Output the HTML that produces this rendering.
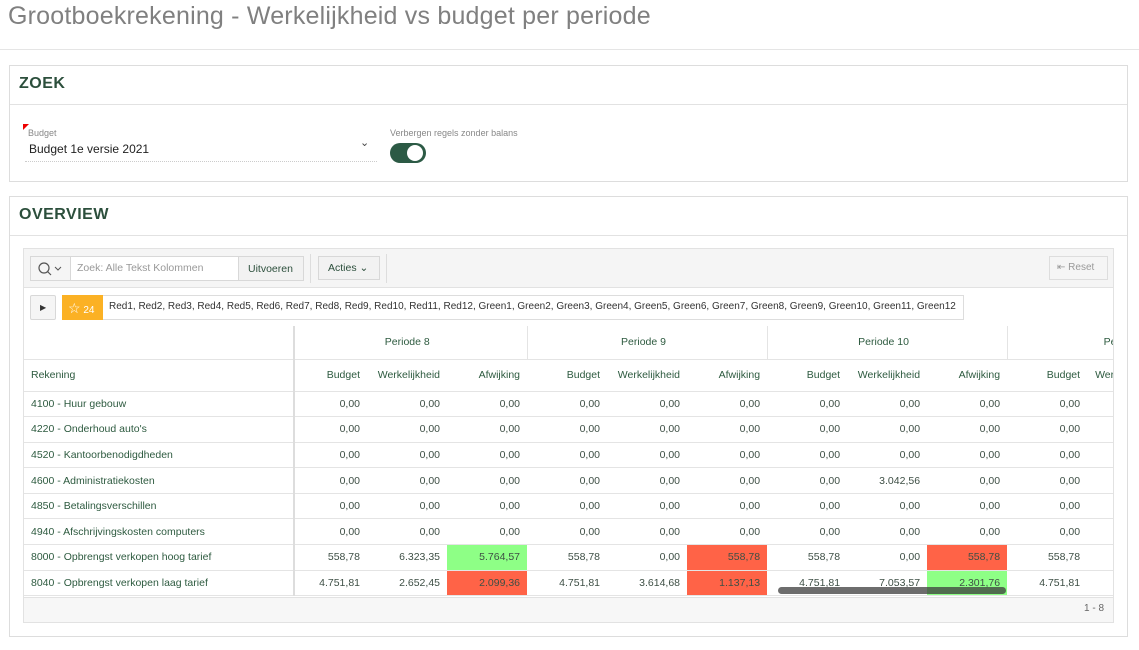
<!DOCTYPE html>
<html><head><meta charset="utf-8"><style>
*{box-sizing:border-box;margin:0;padding:0}
body{width:1139px;height:650px;overflow:hidden;background:#fff;font-family:"Liberation Sans",sans-serif;color:#3e4f45;position:relative}
.abs{position:absolute}
h1{position:absolute;left:8px;top:2px;font-size:25px;font-weight:normal;color:#808080;letter-spacing:0.2px}
.panel{position:absolute;left:9px;width:1119px;border:1px solid #ddd;background:#fff}
.ph{height:39px;border-bottom:1px solid #e2e2e2;padding:9px 9px;font-weight:bold;font-size:16px;color:#2c4f3c;letter-spacing:0.5px}
table{border-collapse:collapse;table-layout:fixed;font-size:10.5px}
td{height:25.6px;border-bottom:1px solid #e4e4e4;text-align:right;padding-right:7px;color:#3e4f45;white-space:nowrap;overflow:hidden}
td.l{text-align:left;padding-left:7px;color:#2d5a3f;border-right:2px solid #ddd}
.hd td{color:#2d5a3f;height:32px}
.r{background:#ff6347}.g{background:#8eff86}
</style></head><body>
<h1>Grootboekrekening - Werkelijkheid vs budget per periode</h1>
<div class="abs" style="left:0;top:49px;width:1139px;border-top:1px solid #e5e5e5"></div>

<div class="panel" style="top:65px;height:117px">
<div class="ph">ZOEK</div>
<div class="abs" style="left:13px;top:58px;width:0;height:0;border-top:6px solid #e00;border-right:6px solid transparent"></div>
<div class="abs" style="left:18px;top:62px;font-size:9px;color:#888">Budget</div>
<div class="abs" style="left:19px;top:76px;font-size:12px;color:#222">Budget 1e versie 2021</div>
<div class="abs" style="left:350px;top:70px;font-size:11px;color:#444">&#8964;</div>
<div class="abs" style="left:15px;top:95px;width:352px;border-top:1px dotted #ccc"></div>
<div class="abs" style="left:380px;top:62px;font-size:9px;color:#888">Verbergen regels zonder balans</div>
<div class="abs" style="left:380px;top:77px;width:36px;height:20px;border-radius:10px;background:#2c5a45"><div class="abs" style="left:17px;top:2px;width:16px;height:16px;border-radius:8px;background:#fff"></div></div>
</div>

<div class="panel" style="top:196px;height:441px">
<div class="ph" style="height:39px">OVERVIEW</div>
</div>

<div class="abs" style="left:23px;top:248px;width:1091px;height:375px;border:1px solid #e2e2e2;overflow:hidden">
<div class="abs" style="left:0;top:0;width:1091px;height:39px;background:#f5f5f5;border-bottom:1px solid #e2e2e2"></div>
<div class="abs" style="left:6px;top:7px;width:274px;height:25px;border:1px solid #d8d8d8;background:#fff"></div>
<div class="abs" style="left:6px;top:7px;width:41px;height:25px;border:1px solid #d8d8d8;background:#f5f5f5">
<svg width="40" height="24" style="position:absolute;left:0;top:0"><circle cx="13" cy="11" r="5" fill="none" stroke="#555" stroke-width="1.2"/><line x1="16.5" y1="14.5" x2="20" y2="18" stroke="#555" stroke-width="1.2"/><polyline points="24,10 27,13 30,10" fill="none" stroke="#555" stroke-width="1"/></svg></div>
<div class="abs" style="left:53px;top:13px;font-size:10.5px;color:#999">Zoek: Alle Tekst Kolommen</div>
<div class="abs" style="left:214px;top:7px;width:66px;height:25px;border:1px solid #d8d8d8;background:#f2f2f2;font-size:10.5px;padding:6px 0 0 9px;color:#2c4f3c">Uitvoeren</div>
<div class="abs" style="left:286px;top:5px;height:29px;border-left:1px solid #ddd"></div>
<div class="abs" style="left:294px;top:7px;width:62px;height:24px;border:1px solid #d8d8d8;background:#f2f2f2;font-size:10.5px;padding:5px 0 0 9px;color:#2c4f3c">Acties &#8964;</div>
<div class="abs" style="left:362px;top:5px;height:29px;border-left:1px solid #ddd"></div>
<div class="abs" style="left:1025px;top:7px;width:59px;height:24px;border:1px solid #ddd;font-size:10px;padding:5px 0 0 7px;color:#999">&#8676; Reset</div>

<div class="abs" style="left:6px;top:46px;width:26px;height:25px;border:1px solid #d8d8d8;border-radius:2px;background:#f5f5f5;font-size:8px;padding:7px 0 0 9px;color:#333">&#9654;</div>
<div class="abs" style="left:38px;top:46px;width:902px;height:25px;border:1px solid #ddd"></div>
<div class="abs" style="left:38px;top:46px;width:41px;height:25px;background:#fbb124;color:#fff;font-size:10px;padding:5px 0 0 6px"><span style="font-size:14px">&#9734;</span> 24</div>
<div class="abs" style="left:85px;top:52px;font-size:10px;color:#333">Red1, Red2, Red3, Red4, Red5, Red6, Red7, Red8, Red9, Red10, Red11, Red12, Green1, Green2, Green3, Green4, Green5, Green6, Green7, Green8, Green9, Green10, Green11, Green12</div>

<table class="abs" style="left:0;top:77px;width:1170px">
<colgroup><col style="width:270px"><col style="width:73px"><col style="width:80px"><col style="width:80px"><col style="width:80px"><col style="width:80px"><col style="width:80px"><col style="width:80px"><col style="width:80px"><col style="width:80px"><col style="width:80px"><col style="width:80px"></colgroup>
<tr class="hd"><td class="l" style="height:33px"></td><td colspan="3" style="text-align:center;border-right:1px solid #e4e4e4">Periode 8</td><td colspan="3" style="text-align:center;border-right:1px solid #e4e4e4">Periode 9</td><td colspan="3" style="text-align:center;border-right:1px solid #e4e4e4">Periode 10</td><td colspan="3" style="text-align:left;padding-left:96px">Periode 11</td></tr>
<tr class="hd"><td class="l">Rekening</td><td>Budget</td><td>Werkelijkheid</td><td>Afwijking</td><td>Budget</td><td>Werkelijkheid</td><td>Afwijking</td><td>Budget</td><td>Werkelijkheid</td><td>Afwijking</td><td>Budget</td><td style="text-align:left;padding-left:8px">Werkelijkheid</td></tr>
<tr><td class="l">4100 - Huur gebouw</td><td>0,00</td><td>0,00</td><td>0,00</td><td>0,00</td><td>0,00</td><td>0,00</td><td>0,00</td><td>0,00</td><td>0,00</td><td>0,00</td><td></td></tr>
<tr><td class="l">4220 - Onderhoud auto's</td><td>0,00</td><td>0,00</td><td>0,00</td><td>0,00</td><td>0,00</td><td>0,00</td><td>0,00</td><td>0,00</td><td>0,00</td><td>0,00</td><td></td></tr>
<tr><td class="l">4520 - Kantoorbenodigdheden</td><td>0,00</td><td>0,00</td><td>0,00</td><td>0,00</td><td>0,00</td><td>0,00</td><td>0,00</td><td>0,00</td><td>0,00</td><td>0,00</td><td></td></tr>
<tr><td class="l">4600 - Administratiekosten</td><td>0,00</td><td>0,00</td><td>0,00</td><td>0,00</td><td>0,00</td><td>0,00</td><td>0,00</td><td>3.042,56</td><td>0,00</td><td>0,00</td><td></td></tr>
<tr><td class="l">4850 - Betalingsverschillen</td><td>0,00</td><td>0,00</td><td>0,00</td><td>0,00</td><td>0,00</td><td>0,00</td><td>0,00</td><td>0,00</td><td>0,00</td><td>0,00</td><td></td></tr>
<tr><td class="l">4940 - Afschrijvingskosten computers</td><td>0,00</td><td>0,00</td><td>0,00</td><td>0,00</td><td>0,00</td><td>0,00</td><td>0,00</td><td>0,00</td><td>0,00</td><td>0,00</td><td></td></tr>
<tr><td class="l">8000 - Opbrengst verkopen hoog tarief</td><td>558,78</td><td>6.323,35</td><td class="g">5.764,57</td><td>558,78</td><td>0,00</td><td class="r">558,78</td><td>558,78</td><td>0,00</td><td class="r">558,78</td><td>558,78</td><td></td></tr>
<tr><td class="l">8040 - Opbrengst verkopen laag tarief</td><td>4.751,81</td><td>2.652,45</td><td class="r">2.099,36</td><td>4.751,81</td><td>3.614,68</td><td class="r">1.137,13</td><td>4.751,81</td><td>7.053,57</td><td class="g">2.301,76</td><td>4.751,81</td><td></td></tr>
</table>
<div class="abs" style="left:754px;top:338px;width:228px;height:7px;border-radius:4px;background:rgba(60,60,60,0.75)"></div>
<div class="abs" style="left:0;top:348px;width:1091px;height:27px;background:#f7f7f7;border-top:1px solid #e2e2e2"></div>
<div class="abs" style="left:1060px;top:354px;font-size:10px;color:#666">1 - 8</div>
</div>
</body></html>
